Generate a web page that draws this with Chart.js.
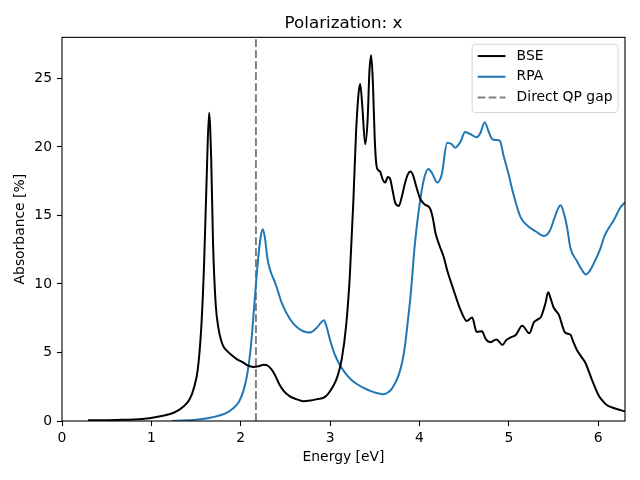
<!DOCTYPE html>
<html>
<head>
<meta charset="utf-8">
<script src="https://cdn.jsdelivr.net/npm/chart.js@4/dist/chart.umd.min.js"></script>
<style>
  html, body { margin: 0; padding: 0; background: #ffffff; }
  #wrap { width: 640px; height: 480px; }
</style>
</head>
<body>
<div id="wrap"><canvas id="absChart" width="640" height="480"></canvas></div>
<script>
// BSE / RPA absorbance spectra, polarization x
const bseEnergy = [0.29, 0.6, 0.9, 1.1, 1.25, 1.35, 1.43, 1.48, 1.52, 1.56, 1.59, 1.62, 1.646, 1.67, 1.69, 1.72, 1.75, 1.78, 1.81, 1.85,
  1.90, 1.96, 2.02, 2.08, 2.14, 2.20, 2.26, 2.30, 2.34, 2.38, 2.43, 2.48, 2.55, 2.62, 2.70, 2.78, 2.86, 2.93, 2.98, 3.03,
  3.08, 3.13, 3.18, 3.22, 3.26, 3.29, 3.32, 3.337, 3.36, 3.393, 3.42, 3.44, 3.46, 3.48, 3.50, 3.52, 3.54, 3.56, 3.59, 3.617,
  3.645, 3.67, 3.70, 3.73, 3.77, 3.80, 3.84, 3.87, 3.90, 3.93, 3.96, 4.01, 4.06, 4.12, 4.15, 4.18, 4.23, 4.27, 4.31, 4.38,
  4.46, 4.53, 4.59, 4.64, 4.70, 4.74, 4.79, 4.86, 4.93, 4.97, 5.02, 5.08, 5.15, 5.23, 5.28, 5.32, 5.36, 5.41, 5.44, 5.47,
  5.50, 5.56, 5.63, 5.69, 5.72, 5.76, 5.81, 5.86, 5.93, 6.01, 6.06, 6.10, 6.15, 6.21, 6.30];
const bseAbs = [0.05, 0.08, 0.15, 0.35, 0.6, 1.0, 1.6, 2.5, 3.8, 7.0, 11.5, 18.0, 22.5, 19.0, 13.0, 8.5, 6.8, 5.9, 5.4, 5.1,
  4.8, 4.5, 4.3, 4.05, 3.95, 4.0, 4.1, 4.05, 3.8, 3.4, 2.7, 2.2, 1.8, 1.6, 1.45, 1.5, 1.6, 1.7, 2.0, 2.5,
  3.2, 4.5, 7.0, 10.5, 16.0, 21.0, 24.0, 24.6, 23.0, 20.2, 22.0, 25.5, 26.7, 24.5, 20.5, 18.6, 18.3, 18.2, 17.6, 17.4,
  17.8, 17.7, 16.8, 15.9, 15.7, 16.3, 17.4, 18.0, 18.2, 17.9, 17.2, 16.2, 15.8, 15.5, 14.8, 13.7, 12.7, 12.0, 11.0, 9.6,
  8.1, 7.3, 7.55, 6.5, 6.55, 6.0, 5.75, 5.95, 5.55, 5.9, 6.1, 6.3, 6.95, 6.4, 7.2, 7.4, 7.6, 8.6, 9.4, 8.9,
  8.3, 7.75, 6.45, 6.3, 5.8, 5.2, 4.7, 4.2, 3.0, 1.8, 1.4, 1.15, 1.0, 0.87, 0.7];

const rpaEnergy = [1.23, 1.4, 1.55, 1.70, 1.84, 1.92, 1.98, 2.03, 2.07, 2.11, 2.15, 2.19, 2.22, 2.245, 2.27, 2.30, 2.33, 2.39, 2.46, 2.55,
  2.63, 2.70, 2.77, 2.85, 2.90, 2.93, 2.96, 3.00, 3.05, 3.10, 3.17, 3.24, 3.30, 3.38, 3.45, 3.52, 3.60, 3.65, 3.69, 3.73,
  3.77, 3.81, 3.84, 3.87, 3.90, 3.95, 4.01, 4.06, 4.10, 4.14, 4.20, 4.25, 4.31, 4.36, 4.40, 4.46, 4.51, 4.58, 4.64, 4.68,
  4.73, 4.77, 4.81, 4.86, 4.90, 4.94, 4.99, 5.05, 5.13, 5.22, 5.30, 5.39, 5.46, 5.51, 5.55, 5.58, 5.61, 5.65, 5.69, 5.76,
  5.82, 5.86, 5.90, 5.95, 6.02, 6.07, 6.12, 6.17, 6.25, 6.30];
const rpaAbs = [0.0, 0.05, 0.12, 0.3, 0.6, 0.95, 1.4, 2.2, 3.3, 5.2, 8.3, 11.5, 13.3, 14.0, 13.4, 11.8, 11.0, 10.0, 8.6, 7.45,
  6.85, 6.55, 6.45, 6.8, 7.2, 7.35, 6.9, 5.9, 4.9, 4.2, 3.5, 3.0, 2.7, 2.4, 2.2, 2.05, 1.95, 2.1, 2.35, 2.8,
  3.4, 4.4, 5.6, 7.3, 9.1, 13.0, 16.2, 17.9, 18.4, 18.1, 17.4, 18.0, 20.3, 20.2, 19.95, 20.4, 21.1, 20.9, 20.7, 21.0,
  21.8, 21.2, 20.6, 20.5, 20.45, 19.4, 18.2, 16.6, 14.9, 14.2, 13.85, 13.5, 13.9, 14.8, 15.5, 15.75, 15.3, 14.2, 12.6, 11.7,
  11.0, 10.7, 10.9, 11.5, 12.5, 13.5, 14.1, 14.6, 15.6, 15.95];

const qpGap = 2.17;            // eV
const xTicks = [0, 1, 2, 3, 4, 5, 6];
const yTicks = [0, 5, 10, 15, 20, 25];
const xMax = 6.3;
const yMax = 28.0;

const FONT = 'DejaVu Sans';

const toPoints = (xs, ys) => xs.map((x, i) => ({ x: x, y: ys[i] }));

// black frame round the axes
const framePlugin = {
  id: 'frame',
  afterDatasetsDraw(chart) {
    const { ctx, chartArea: a } = chart;
    ctx.save();
    ctx.strokeStyle = '#000';
    ctx.lineWidth = 1.1;
    ctx.strokeRect(a.left, a.top, a.right - a.left, a.bottom - a.top);
    ctx.restore();
  }
};

// matplotlib style legend in upper right corner
const boxLegendPlugin = {
  id: 'boxLegend',
  afterDraw(chart) {
    const { ctx, chartArea: a } = chart;
    const fs = 13.9;
    const pad = 0.5 * fs, borderPad = 0.4 * fs, handleLen = 2 * fs, textPad = 0.8 * fs, rowH = 20.7;
    ctx.save();
    ctx.font = fs + 'px "' + FONT + '"';
    const items = chart.data.datasets;
    let tw = 0;
    items.forEach(d => { tw = Math.max(tw, ctx.measureText(d.label).width); });
    const w = borderPad * 2 + handleLen + textPad + tw;
    const h = borderPad * 2 + rowH * items.length - 5;
    const x0 = a.right - pad - w, y0 = a.top + pad;
    ctx.beginPath();
    ctx.roundRect(x0, y0, w, h, 3);
    ctx.fillStyle = 'rgba(255,255,255,0.8)';
    ctx.fill();
    ctx.strokeStyle = 'rgba(204,204,204,0.8)';
    ctx.lineWidth = 1;
    ctx.stroke();
    items.forEach((d, i) => {
      const cy = y0 + borderPad + 6.2 + i * rowH;
      ctx.beginPath();
      ctx.setLineDash(d.borderDash || []);
      ctx.strokeStyle = d.borderColor;
      ctx.lineWidth = d.borderWidth;
      ctx.moveTo(x0 + borderPad, cy);
      ctx.lineTo(x0 + borderPad + handleLen, cy);
      ctx.stroke();
      ctx.setLineDash([]);
      ctx.fillStyle = '#000';
      ctx.textBaseline = 'middle';
      ctx.textAlign = 'left';
      ctx.fillText(d.label, x0 + borderPad + handleLen + textPad, cy);
    });
    ctx.restore();
  }
};

new Chart(document.getElementById('absChart'), {
  type: 'line',
  data: {
    datasets: [
      {
        label: 'BSE',
        data: toPoints(bseEnergy, bseAbs),
        borderColor: '#000000',
        borderWidth: 2,
        pointRadius: 0,
        cubicInterpolationMode: 'monotone',
        borderJoinStyle: 'round',
        fill: false
      },
      {
        label: 'RPA',
        data: toPoints(rpaEnergy, rpaAbs),
        borderColor: '#1f77b4',
        borderWidth: 2,
        pointRadius: 0,
        cubicInterpolationMode: 'monotone',
        borderJoinStyle: 'round',
        fill: false
      },
      {
        label: 'Direct QP gap',
        data: [{ x: qpGap, y: 0 }, { x: qpGap, y: yMax }],
        borderColor: '#808080',
        borderWidth: 2,
        borderDash: [7.7, 3.3],
        pointRadius: 0,
        tension: 0,
        fill: false
      }
    ]
  },
  options: {
    responsive: false,
    animation: false,
    events: [],
    layout: { padding: { left: 0, right: 15, top: 0, bottom: 0 } },
    plugins: {
      legend: { display: false },
      tooltip: { enabled: false },
      title: {
        display: true,
        text: 'Polarization: x',
        fullSize: false,
        color: '#000',
        font: { family: FONT, size: 16.7, weight: 'normal' },
        padding: { top: 13.3, bottom: 4 }
      }
    },
    scales: {
      x: {
        type: 'linear',
        min: 0,
        max: xMax,
        afterFit: s => { s.height = 59; },
        afterBuildTicks: s => { s.ticks = xTicks.map(v => ({ value: v })); },
        border: { display: false },
        grid: { drawOnChartArea: false, drawTicks: true, tickLength: 5, tickColor: '#000', tickWidth: 1.1 },
        ticks: { color: '#000', padding: 4, font: { family: FONT, size: 13.9 }, maxRotation: 0 },
        title: { display: true, text: 'Energy [eV]', color: '#000', font: { family: FONT, size: 13.9 }, padding: { top: 0, bottom: 14.7 } }
      },
      y: {
        type: 'linear',
        min: 0,
        max: yMax,
        afterFit: s => { s.width = 62; },
        afterBuildTicks: s => { s.ticks = yTicks.map(v => ({ value: v })); },
        border: { display: false },
        grid: { drawOnChartArea: false, drawTicks: true, tickLength: 5, tickColor: '#000', tickWidth: 1.1 },
        ticks: { color: '#000', padding: 5, font: { family: FONT, size: 13.9 } },
        title: { display: true, text: 'Absorbance [%]', color: '#000', font: { family: FONT, size: 13.9 }, padding: { top: 12.4, bottom: 0 } }
      }
    }
  },
  plugins: [framePlugin, boxLegendPlugin]
});
</script>
</body>
</html>
